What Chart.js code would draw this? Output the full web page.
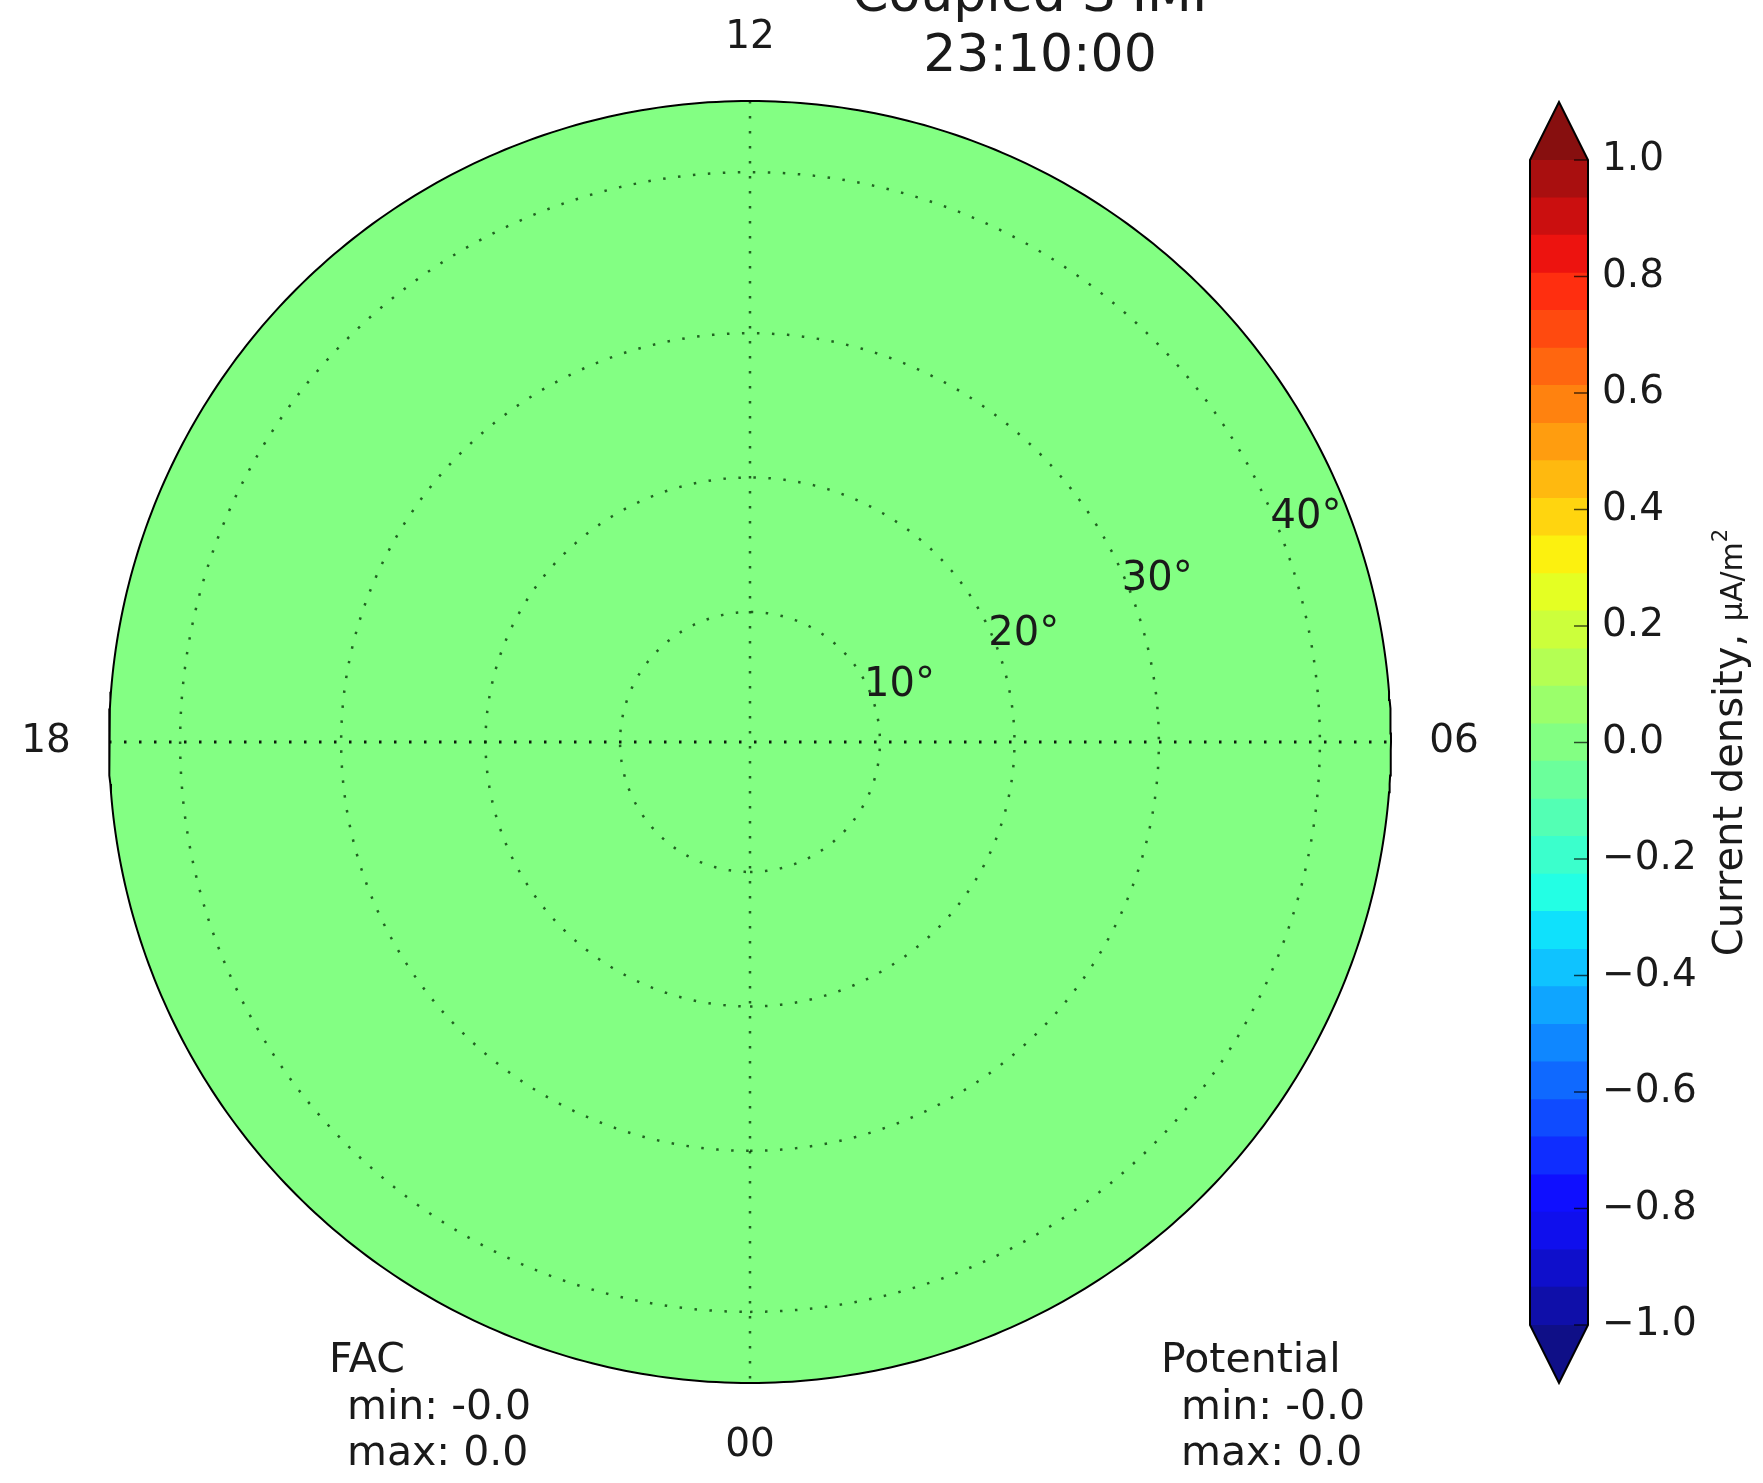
<!DOCTYPE html>
<html>
<head>
<meta charset="utf-8">
<script src="https://cdn.jsdelivr.net/npm/chart.js@4.4.1/dist/chart.umd.min.js"></script>
<style>
  html, body { margin: 0; padding: 0; background: #fff; }
  #wrap { position: relative; width: 1763px; height: 1483px; overflow: hidden; }
  #polar { position: absolute; left: 0; top: 0; }
  #cbar { position: absolute; left: 1500px; top: 0; }
</style>
</head>
<body>
<div id="wrap">
  <canvas id="polar" width="1763" height="1483"></canvas>
  <canvas id="cbar" width="263" height="1483"></canvas>
</div>
<script>
// --- data -------------------------------------------------------------
const TITLE_LINES = ['Coupled S IMF', '23:10:00']
const RING_COLATS = [10, 20, 30, 40]
const RING_LABEL_MLT = 7.5
const EDGE_COLAT = 44
const MLT_HOURS = [12, 6, 0, 18]
const MLT_LABELS = ['12', '06', '00', '18']
const FAC_RANGE = [-0.0, 0.0]
const POTENTIAL_RANGE = [-0.0, 0.0]
const FAC_FIELD = 0.0
const CB_LEVELS = [
  -1.0, -0.935, -0.871, -0.806, -0.742, -0.677, -0.613, -0.548,
  -0.484, -0.419, -0.355, -0.290, -0.226, -0.161, -0.097, -0.032,
  0.032, 0.097, 0.161, 0.226, 0.290, 0.355, 0.419, 0.484,
  0.548, 0.613, 0.677, 0.742, 0.806, 0.871, 0.935, 1.0,
]
const CB_TICKS = [-1.0, -0.8, -0.6, -0.4, -0.2, 0.0, 0.2, 0.4, 0.6, 0.8, 1.0]
const CB_LABEL = ['Current density, ', 'μA/m', '2']

// --- styles -----------------------------------------------------------
const FONT = '"DejaVu Sans", "Liberation Sans", sans-serif'
const INK = '#1a1a1a'
const GRID_DOT = [2.5, 12.5]

// matplotlib "jet" segment data
const JET = {
  r: [[0, 0], [0.35, 0], [0.66, 1], [0.89, 1], [1, 0.5]],
  g: [[0, 0], [0.125, 0], [0.375, 1], [0.64, 1], [0.91, 0], [1, 0]],
  b: [[0, 0.5], [0.11, 1], [0.34, 1], [0.65, 0], [1, 0]],
}
function segment(pts, t) {
  for (let i = 1; i < pts.length; i++) {
    if (t <= pts[i][0]) {
      const [x0, y0] = pts[i - 1], [x1, y1] = pts[i]
      return y0 + (y1 - y0) * (t - x0) / (x1 - x0)
    }
  }
  return pts[pts.length - 1][1]
}
function jet(t) {
  const wash = 0.06
  const c = ['r', 'g', 'b'].map(k => Math.round((segment(JET[k], t) * (1 - wash) + wash) * 255))
  return `rgb(${c[0]},${c[1]},${c[2]})`
}
const nBands = CB_LEVELS.length - 1
const bandColor = i => jet((i + 1) / (nBands + 1))
const UNDER_COLOR = jet(0)
const OVER_COLOR = jet(1)
function colorFor(v) {
  for (let i = 0; i < nBands; i++) if (v >= CB_LEVELS[i] && v < CB_LEVELS[i + 1]) return bandColor(i)
  return v < CB_LEVELS[0] ? UNDER_COLOR : OVER_COLOR
}
const fmtSigned = v => (v < 0 || Object.is(v, -0) ? '-' : '') + Math.abs(v).toFixed(1)

// polar cap projection: radius grows as tan(0.75 * colatitude)
const polarRadius = colat => Math.tan(0.75 * colat * Math.PI / 180)
function toXY(colat, mlt) {
  const r = polarRadius(colat), a = (mlt - 6) * Math.PI / 12
  return { x: r * Math.cos(a), y: r * Math.sin(a) }
}
function ring(colat) {
  const pts = []
  for (let k = 0; k <= 480; k++) pts.push(toXY(colat, k * 24 / 480))
  return pts
}
const EDGE = polarRadius(EDGE_COLAT)

const polarText = {
  id: 'polarText',
  afterDraw(chart) {
    const { ctx } = chart
    const xs = chart.scales.x, ys = chart.scales.y
    const cx = xs.getPixelForValue(0), cy = ys.getPixelForValue(0)
    ctx.save()
    ctx.fillStyle = INK

    // hour labels just outside the rim
    ctx.font = `39px ${FONT}`
    ctx.textAlign = 'center'
    ctx.textBaseline = 'middle'
    MLT_HOURS.forEach((h, i) => {
      const p = toXY(EDGE_COLAT, h)
      const px = xs.getPixelForValue(p.x), py = ys.getPixelForValue(p.y)
      const d = Math.hypot(px - cx, py - cy)
      const k = (d + 63) / d
      ctx.fillText(MLT_LABELS[i], cx + (px - cx) * k, cy + (py - cy) * k)
    })

    // colatitude ring labels
    ctx.font = `40px ${FONT}`
    ctx.textAlign = 'left'
    ctx.textBaseline = 'alphabetic'
    RING_COLATS.forEach(c => {
      const p = toXY(c, RING_LABEL_MLT)
      ctx.fillText(c + '°', xs.getPixelForValue(p.x) - 6, ys.getPixelForValue(p.y) + 4)
    })

    // title
    ctx.font = `52px ${FONT}`
    ctx.textAlign = 'center'
    ctx.fillText(TITLE_LINES[0], 1037, 11)
    ctx.fillText(TITLE_LINES[1], 1040, 71)

    // min / max blocks
    ctx.font = `41px ${FONT}`
    ctx.textAlign = 'left'
    ctx.fillText('FAC', 329, 1372)
    ctx.fillText('min: ' + fmtSigned(FAC_RANGE[0]), 347, 1419)
    ctx.fillText('max: ' + fmtSigned(FAC_RANGE[1]), 347, 1465)
    ctx.fillText('Potential', 1161, 1372)
    ctx.fillText('min: ' + fmtSigned(POTENTIAL_RANGE[0]), 1181, 1419)
    ctx.fillText('max: ' + fmtSigned(POTENTIAL_RANGE[1]), 1181, 1465)
    ctx.restore()
  }
}

const gridLine = (data, color, width) => ({
  data, showLine: true, pointRadius: 0, borderColor: color, borderWidth: width,
  borderDash: GRID_DOT, fill: false, order: 2, clip: false,
})

new Chart(document.getElementById('polar'), {
  type: 'scatter',
  data: {
    datasets: [
      // uniform field over the polar cap
      { data: ring(EDGE_COLAT), showLine: true, pointRadius: 0, borderWidth: 0,
        backgroundColor: colorFor(FAC_FIELD), fill: 'shape', order: 3, clip: false },
      ...RING_COLATS.map(c => gridLine(ring(c), 'rgba(0,45,0,0.75)', 2.5)),
      gridLine([toXY(EDGE_COLAT, 12), toXY(EDGE_COLAT, 0)], 'rgba(0,45,0,0.75)', 2.5),
      gridLine([toXY(EDGE_COLAT, 18), toXY(EDGE_COLAT, 6)], 'rgba(0,0,0,0.9)', 3),
      { data: ring(EDGE_COLAT), showLine: true, pointRadius: 0, borderColor: '#000',
        borderWidth: 2, fill: false, order: 1, clip: false },
    ]
  },
  options: {
    responsive: false,
    animation: false,
    layout: { padding: { left: 109, right: 372, top: 101, bottom: 100 } },
    plugins: { legend: { display: false }, tooltip: { enabled: false } },
    scales: {
      x: { type: 'linear', min: -EDGE, max: EDGE, display: false },
      y: { type: 'linear', min: -EDGE, max: EDGE, display: false },
    },
  },
  plugins: [polarText],
})

// --- colour bar -------------------------------------------------------
const colorbarFrame = {
  id: 'colorbarFrame',
  afterDatasetsDraw(chart) {
    const { ctx, chartArea: a } = chart
    const ys = chart.scales.y
    const mid = (a.left + a.right) / 2, tip = 58
    ctx.save()
    ctx.fillStyle = OVER_COLOR
    ctx.beginPath(); ctx.moveTo(a.left, a.top); ctx.lineTo(mid, a.top - tip); ctx.lineTo(a.right, a.top); ctx.closePath(); ctx.fill()
    ctx.fillStyle = UNDER_COLOR
    ctx.beginPath(); ctx.moveTo(a.left, a.bottom); ctx.lineTo(mid, a.bottom + tip); ctx.lineTo(a.right, a.bottom); ctx.closePath(); ctx.fill()

    ctx.strokeStyle = 'rgba(0,0,0,0.7)'
    ctx.lineWidth = 1.5
    CB_TICKS.forEach(v => {
      const y = ys.getPixelForValue(v)
      ctx.beginPath(); ctx.moveTo(a.right - 14, y); ctx.lineTo(a.right, y); ctx.stroke()
    })

    ctx.strokeStyle = '#000'
    ctx.lineWidth = 2
    ctx.lineJoin = 'miter'
    ctx.beginPath()
    ctx.moveTo(a.left, a.top); ctx.lineTo(mid, a.top - tip); ctx.lineTo(a.right, a.top)
    ctx.lineTo(a.right, a.bottom); ctx.lineTo(mid, a.bottom + tip); ctx.lineTo(a.left, a.bottom)
    ctx.closePath()
    ctx.stroke()
    ctx.restore()
  },
  afterDraw(chart) {
    // rotated axis label, reads bottom to top
    const { ctx, chartArea: a } = chart
    const sizes = [40, 30, 21]
    ctx.save()
    ctx.fillStyle = INK
    ctx.textBaseline = 'alphabetic'
    ctx.textAlign = 'left'
    const widths = CB_LABEL.map((s, i) => { ctx.font = `${sizes[i]}px ${FONT}`; return ctx.measureText(s).width })
    const total = widths.reduce((p, w) => p + w, 0)
    ctx.translate(242, (a.top + a.bottom) / 2)
    ctx.rotate(-Math.PI / 2)
    let x = -total / 2
    CB_LABEL.forEach((s, i) => {
      ctx.font = `${sizes[i]}px ${FONT}`
      ctx.fillText(s, x, i === 2 ? -15 : 0)
      x += widths[i]
    })
    ctx.restore()
  }
}

new Chart(document.getElementById('cbar'), {
  type: 'bar',
  data: {
    labels: [''],
    datasets: CB_LEVELS.slice(0, -1).map((lo, i) => ({
      data: [[lo, CB_LEVELS[i + 1]]],
      backgroundColor: bandColor(i),
      borderWidth: 0,
      barPercentage: 1,
      categoryPercentage: 1,
    })),
  },
  options: {
    responsive: false,
    animation: false,
    layout: { padding: { left: 30, right: 45, top: 160, bottom: 158 } },
    plugins: { legend: { display: false }, tooltip: { enabled: false } },
    scales: {
      x: { display: false, stacked: true },
      y: {
        position: 'right',
        min: -1, max: 1,
        afterFit: s => { s.width = 130 },
        afterBuildTicks: s => { s.ticks = CB_TICKS.map(v => ({ value: v })) },
        grid: { display: false, drawTicks: false },
        border: { display: false },
        ticks: {
          padding: 14,
          color: INK,
          font: { family: FONT, size: 39 },
          callback: v => Math.abs(v) < 1e-9 ? '0.0' : (v < 0 ? '−' : '') + Math.abs(v).toFixed(1),
        },
      },
    },
  },
  plugins: [colorbarFrame],
})
</script>
</body>
</html>
